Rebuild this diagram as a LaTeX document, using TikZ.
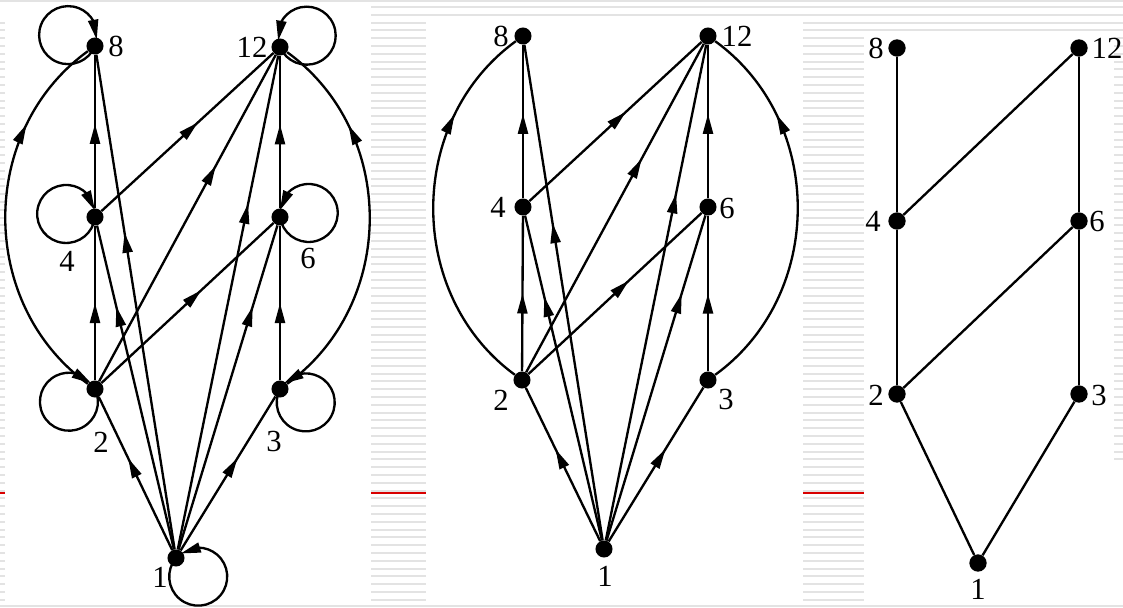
\documentclass[tikz,border=0pt]{standalone}
\usepackage{fontspec}
\setmainfont{Liberation Serif}
\usetikzlibrary{arrows.meta,decorations.markings,bending}
\begin{document}
\begin{tikzpicture}[x=0.75pt,y=-0.75pt,
  >={Triangle[length=15pt,width=7.5pt]},
  dot/.style={circle,fill=black,inner sep=0pt,minimum size=12.8pt},
  bigdot/.style={dot,minimum size=13pt},
  lab/.style={inner sep=0pt,font=\fontsize{23}{23}\selectfont},
  ed/.style={line width=1.75pt,postaction={decorate,decoration={markings,mark=at position #1 with {\arrow{>}}}}},
  ln/.style={line width=1.75pt},
  lp/.style={line width=1.75pt,->},
  stripe/.style={line width=1.5pt,gray!22},
  redline/.style={line width=1.6pt,red!85!black},
]
\useasboundingbox (0,0) rectangle (1123,607);
\fill[white] (0,0) rectangle (1123,607);
% background stripes
\draw[stripe] (0,0.8) -- (1123,0.8);
\draw[stripe] (371,7) -- (1123,7);
\draw[stripe] (371,15) -- (1123,15);
\draw[stripe] (803,22.5) -- (1123,22.5);
\draw[stripe] (803,30.3) -- (1123,30.3);
\foreach \y in {22.5,30.3,...,600} {
  \draw[stripe] (0,\y) -- (5,\y);
  \draw[stripe] (371,\y) -- (426,\y);
}
\foreach \y in {38.1,45.9,...,600} {
  \draw[stripe] (803,\y) -- (864,\y);
}
\foreach \y in {38.1,45.9,...,460} {
  \draw[stripe] (1114,\y) -- (1123,\y);
}
\draw[stripe] (0,606) -- (1123,606);
\draw[redline] (0,493.3) -- (5,493.3);
\draw[redline] (371,493.3) -- (426,493.3);
\draw[redline] (803,493.3) -- (864,493.3);

% ---------- panel 1 ----------
\node[dot] (a8) at (95,46) {};
\node[dot] (a12) at (280,47) {};
\node[dot] (a4) at (95,217) {};
\node[dot] (a6) at (280,217) {};
\node[dot] (a2) at (95,389) {};
\node[dot] (a3) at (280,389) {};
\node[dot] (a1) at (176,558) {};
\node[lab] (la8) at (116,46) {8};
\node[lab] (la12) at (252,47) {12};
\node[lab] (la4) at (67,261) {4};
\node[lab] (la6) at (308,258) {6};
\node[lab] (la2) at (101,442) {2};
\node[lab] (la3) at (274,441) {3};
\node[lab] (la1) at (160,577) {1};
\coordinate (ac1) at (-22.3,304);
\coordinate (ac2) at (-22.3,131);
\coordinate (ac3) at (397.3,304);
\coordinate (ac4) at (397.3,132);
\draw[ed=0.55] (a4) -- (a8);
\draw[ed=0.55] (a6) -- (a12);
\draw[ed=0.5] (a2) -- (a4);
\draw[ed=0.5] (a3) -- (a6);
\draw[ed=0.75] (a2) .. controls (ac1) and (ac2) .. (a8);
\draw[ed=0.75] (a3) .. controls (ac3) and (ac4) .. (a12);
\draw[ed=0.56] (a4) -- (a12);
\draw[ed=0.66] (a2) -- (a12);
\draw[ed=0.58] (a2) -- (a6);
\draw[ed=0.6] (a1) -- (a2);
\draw[ed=0.6] (a1) -- (a3);
\draw[ed=0.75] (a1) -- (a4);
\draw[ed=0.64] (a1) -- (a8);
\draw[ed=0.7] (a1) -- (a12);
\draw[ed=0.75] (a1) -- (a6);
% loops
\draw[lp] (a8.center) arc[start angle=22, delta angle=347, radius=29];
\draw[lp] (a12.center) arc[start angle=157, delta angle=-347, radius=29];
\draw[lp] (a4.center) arc[start angle=6, delta angle=347, radius=29];
\draw[lp] (a6.center) arc[start angle=172, delta angle=-347, radius=29];
\draw[lp] (a2.center) arc[start angle=-26, delta angle=347, radius=29];
\draw[lp] (a3.center) arc[start angle=207.5, delta angle=-347, radius=29];
\draw[lp] (a1.center) arc[start angle=-140, delta angle=-347, radius=29];

% ---------- panel 2 ----------
\node[dot] (b8) at (523,36) {};
\node[dot] (b12) at (708,36) {};
\node[dot] (b4) at (523,207) {};
\node[dot] (b6) at (708,207) {};
\node[dot] (b2) at (522,380) {};
\node[dot] (b3) at (708,380) {};
\node[dot] (b1) at (604,549) {};
\node[lab] (lb8) at (501,36) {8};
\node[lab] (lb12) at (737,36) {12};
\node[lab] (lb4) at (498,207) {4};
\node[lab] (lb6) at (727,208) {6};
\node[lab] (lb2) at (501,400) {2};
\node[lab] (lb3) at (726,399) {3};
\node[lab] (lb1) at (605,576) {1};
\coordinate (bc1) at (405.8,295);
\coordinate (bc2) at (405.8,121);
\coordinate (bc3) at (825.3,295);
\coordinate (bc4) at (825.3,121);
\draw[ed=0.55] (b4) -- (b8);
\draw[ed=0.55] (b6) -- (b12);
\draw[ed=0.5] (b2) -- (b4);
\draw[ed=0.5] (b3) -- (b6);
\draw[ed=0.75] (b2) .. controls (bc1) and (bc2) .. (b8);
\draw[ed=0.75] (b3) .. controls (bc3) and (bc4) .. (b12);
\draw[ed=0.56] (b4) -- (b12);
\draw[ed=0.65] (b2) -- (b12);
\draw[ed=0.58] (b2) -- (b6);
\draw[ed=0.6] (b1) -- (b2);
\draw[ed=0.6] (b1) -- (b3);
\draw[ed=0.75] (b1) -- (b4);
\draw[ed=0.64] (b1) -- (b8);
\draw[ed=0.7] (b1) -- (b12);
\draw[ed=0.76] (b1) -- (b6);

% ---------- panel 3 ----------
\node[bigdot] (c8) at (897,48) {};
\node[bigdot] (c12) at (1079,48) {};
\node[bigdot] (c4) at (897,221) {};
\node[bigdot] (c6) at (1079,221) {};
\node[bigdot] (c2) at (897,394) {};
\node[bigdot] (c3) at (1079,394) {};
\node[bigdot] (c1) at (978,563) {};
\node[lab] (lc8) at (876,48) {8};
\node[lab] (lc12) at (1107,48) {12};
\node[lab] (lc4) at (873,221) {4};
\node[lab] (lc6) at (1097,221) {6};
\node[lab] (lc2) at (876,395) {2};
\node[lab] (lc3) at (1099,395) {3};
\node[lab] (lc1) at (978,589) {1};
\draw[ln] (c8) -- (c4);
\draw[ln] (c4) -- (c2);
\draw[ln] (c2) -- (c1);
\draw[ln] (c12) -- (c6);
\draw[ln] (c6) -- (c3);
\draw[ln] (c3) -- (c1);
\draw[ln] (c12) -- (c4);
\draw[ln] (c6) -- (c2);
\end{tikzpicture}
\end{document}
